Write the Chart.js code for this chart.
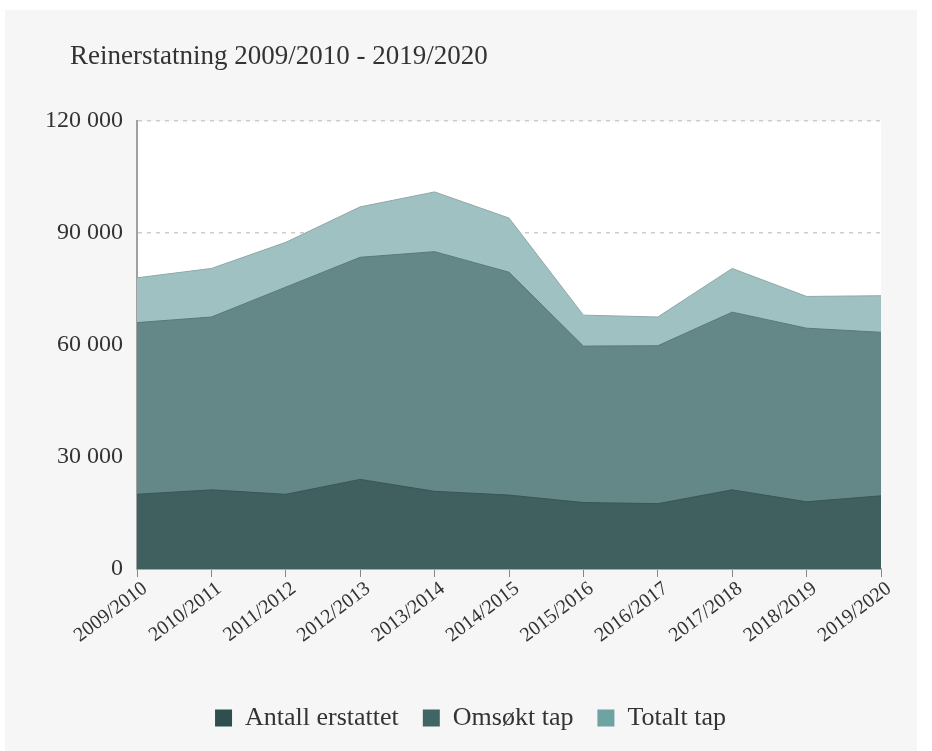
<!DOCTYPE html>
<html>
<head>
<meta charset="utf-8">
<script src="https://cdn.jsdelivr.net/npm/chart.js@4/dist/chart.umd.min.js"></script>
<style>
  html, body { margin: 0; padding: 0; background: #ffffff; }
  #wrap { position: absolute; left: 0; top: 0; width: 932px; height: 751px; }
</style>
</head>
<body>
<div id="wrap"><canvas id="c" width="932" height="751"></canvas></div>
<script>
const categories = ["2009/2010","2010/2011","2011/2012","2012/2013","2013/2014","2014/2015","2015/2016","2016/2017","2017/2018","2018/2019","2019/2020"];
const antallErstattet = [20000, 21200, 20000, 24000, 20800, 19800, 17800, 17500, 21200, 18000, 19600];
const omsoktTap = [66000, 67500, 75500, 83500, 85000, 79500, 59700, 59800, 68800, 64500, 63400];
const totaltTap = [78000, 80500, 87500, 97000, 101000, 94000, 68000, 67500, 80500, 73000, 73200];
const yTicks = [0, 30000, 60000, 90000, 120000];
const titleText = "Reinerstatning 2009/2010 - 2019/2020";
const seriesNames = ["Antall erstattet", "Omsøkt tap", "Totalt tap"];

const fillColors = ["#3f605e", "#648787", "#a0c1c1"];
const lineColors = ["#3a5655", "#5a7a7a", "#8ea8a8"];
const legendColors = ["#2f4f4f", "#3f6565", "#6fa3a3"];

const FONT = "'Liberation Serif', 'DejaVu Serif', serif";

const bgPlugin = {
  id: 'bg',
  afterLayout(chart) {
    if (chart.titleBlock) { chart.titleBlock.left = 70; }
    if (chart.legend) { chart.legend.left = 60; chart.legend.right = 881; }
  },
  beforeDraw(chart) {
    const ctx = chart.ctx;
    ctx.save();
    ctx.fillStyle = '#ffffff';
    ctx.fillRect(0, 0, chart.width, chart.height);
    ctx.fillStyle = '#f6f6f6';
    ctx.fillRect(5, 10, 912, 741);
    const a = chart.chartArea;
    ctx.fillStyle = '#ffffff';
    ctx.fillRect(a.left, a.top, a.right - a.left, a.bottom - a.top);
    ctx.restore();
  }
};

function fmt(v) {
  return String(v).replace(/\B(?=(\d{3})+(?!\d))/g, ' ');
}

new Chart(document.getElementById('c'), {
  type: 'line',
  data: {
    labels: categories,
    datasets: [
      { label: seriesNames[0], data: antallErstattet },
      { label: seriesNames[1], data: omsoktTap },
      { label: seriesNames[2], data: totaltTap }
    ].map((d, i) => Object.assign(d, {
      fill: 'origin',
      backgroundColor: fillColors[i],
      borderColor: lineColors[i],
      borderWidth: 1,
      pointRadius: 0,
      tension: 0
    }))
  },
  options: {
    responsive: false,
    animation: false,
    devicePixelRatio: 1,
    layout: { padding: { top: 0, left: 30, right: 51, bottom: 10 } },
    plugins: {
      title: {
        display: true,
        text: titleText,
        align: 'start',
        color: '#333333',
        font: { family: FONT, size: 27, weight: 'normal', lineHeight: 1.2 },
        padding: { top: 41, bottom: 47.6 }
      },
      legend: {
        position: 'bottom',
        labels: {
          color: '#333333',
          font: { family: FONT, size: 26, lineHeight: 1 },
          boxWidth: 17,
          boxHeight: 17,
          padding: 24,
          generateLabels(chart) {
            return chart.data.datasets.map((ds, i) => ({
              text: ds.label,
              fillStyle: legendColors[i],
              strokeStyle: legendColors[i],
              lineWidth: 0,
              datasetIndex: i,
              hidden: false,
              fontColor: '#333333'
            }));
          }
        }
      },
      tooltip: { enabled: false }
    },
    scales: {
      x: {
        offset: false,
        afterFit(scale) { scale.height = 112; },
        grid: { drawOnChartArea: false, drawTicks: true, tickLength: 8, color: '#888888' },
        border: { display: true, color: '#aaaaaa', width: 2 },
        ticks: {
          color: '#333333',
          font: { family: FONT, size: 20 },
          maxRotation: 37,
          minRotation: 37,
          padding: 0,
          labelOffset: 8,
          autoSkip: false
        }
      },
      y: {
        min: 0,
        max: 120000,
        afterFit(scale) { scale.width = 107; },
        afterBuildTicks(scale) { scale.ticks = yTicks.map(v => ({ value: v })); },
        grid: { color: '#cccccc', drawTicks: false, lineWidth: 1.5 },
        border: { display: true, color: '#a0a0a0', width: 2, dash: [4, 5] },
        ticks: {
          color: '#333333',
          font: { family: FONT, size: 24 },
          padding: 14,
          callback: (v) => fmt(v)
        }
      }
    }
  },
  plugins: [bgPlugin]
});
</script>
</body>
</html>
